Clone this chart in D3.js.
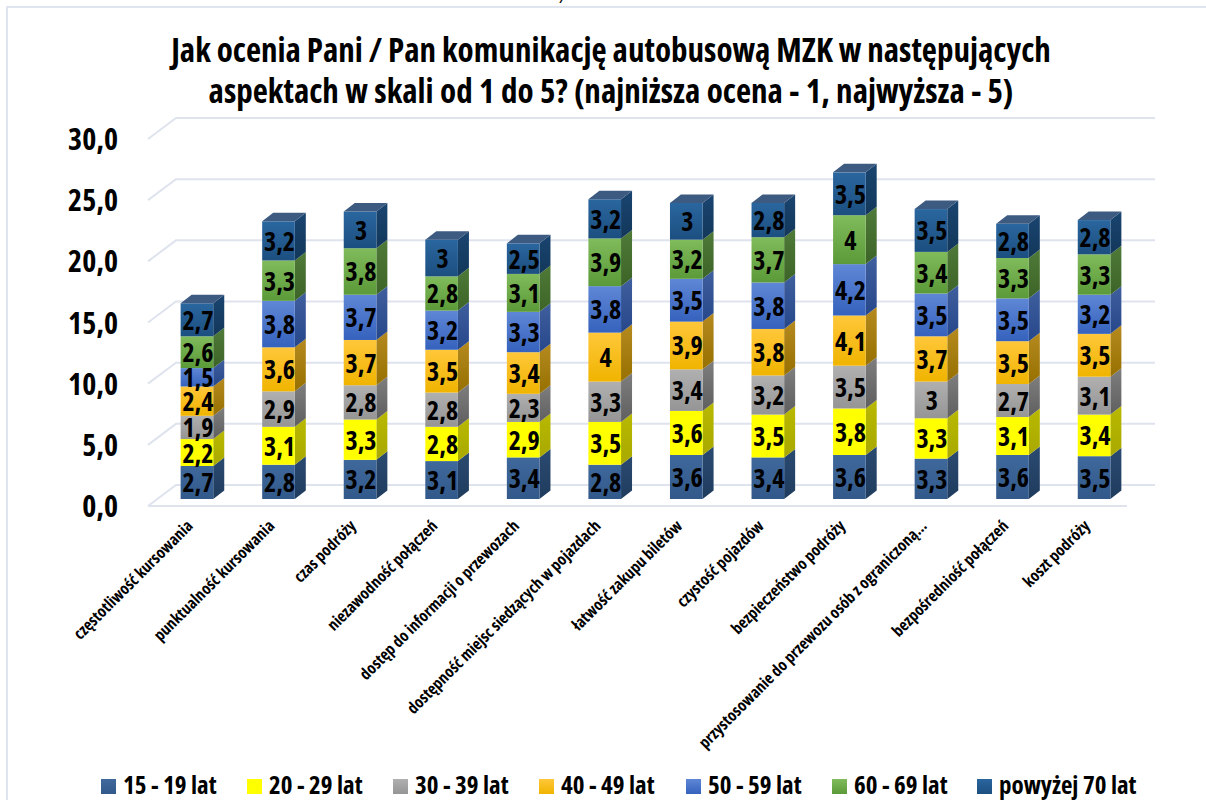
<!DOCTYPE html>
<html>
<head>
<meta charset="utf-8">
<style>
  html, body { margin: 0; padding: 0; background: #fff; }
  svg { display: block; }
  text { font-family: "Open Sans", sans-serif; font-weight: 700; font-stretch: 75%; fill: #000; }
</style>
</head>
<body>
<div id="chart"></div>
<script src="https://cdn.jsdelivr.net/npm/d3@7"></script>
<script>
var categories = ["częstotliwość kursowania", "punktualność kursowania", "czas podróży", "niezawodność połączeń",
  "dostęp do informacji o przewozach", "dostępność miejsc siedzących w pojazdach", "łatwość zakupu biletów",
  "czystość pojazdów", "bezpieczeństwo podróży", "przystosowanie do przewozu osób z ograniczoną…",
  "bezpośredniość połączeń", "koszt podróży"];
var seriesNames = ["15 - 19 lat", "20 - 29 lat", "30 - 39 lat", "40 - 49 lat", "50 - 59 lat", "60 - 69 lat", "powyżej 70 lat"];
var s15 = [2.7, 2.8, 3.2, 3.1, 3.4, 2.8, 3.6, 3.4, 3.6, 3.3, 3.6, 3.5];
var s20 = [2.2, 3.1, 3.3, 2.8, 2.9, 3.5, 3.6, 3.5, 3.8, 3.3, 3.1, 3.4];
var s30 = [1.9, 2.9, 2.8, 2.8, 2.3, 3.3, 3.4, 3.2, 3.5, 3, 2.7, 3.1];
var s40 = [2.4, 3.6, 3.7, 3.5, 3.4, 4, 3.9, 3.8, 4.1, 3.7, 3.5, 3.5];
var s50 = [1.5, 3.8, 3.7, 3.2, 3.3, 3.8, 3.5, 3.8, 4.2, 3.5, 3.5, 3.2];
var s60 = [2.6, 3.3, 3.8, 2.8, 3.1, 3.9, 3.2, 3.7, 4, 3.4, 3.3, 3.3];
var s70 = [2.7, 3.2, 3, 3, 2.5, 3.2, 3, 2.8, 3.5, 3.5, 2.8, 2.8];
var yTicks = [0, 5, 10, 15, 20, 25, 30];
var titleLines = ["Jak ocenia Pani / Pan komunikację autobusową MZK w następujących",
  "aspektach w skali od 1 do 5? (najniższa ocena - 1, najwyższa - 5)"];
// top colour, bottom colour of each series
var colorTop = ["#3f689c", "#ffff00", "#b0b0b0", "#ffc73a", "#5f87d6", "#80bb5c", "#2a669f"];
var colorBottom = ["#32598a", "#ffff00", "#959595", "#f0b400", "#3562bd", "#5b9a38", "#1c4f80"];
var sideTop = ["#2b4a70", "#b9b900", "#7e7e7e", "#b58a20", "#3f5f9e", "#4f7a38", "#1a4570"];
var sideBottom = ["#1f3c5e", "#a8a800", "#5f5f5f", "#967000", "#26478a", "#3c6427", "#12375a"];
var capColor = "#3d5a80";
var series = [s15, s20, s30, s40, s50, s60, s70];

var width = 1206, height = 800;
var depthX = 11, depthY = 8.5;        // bar depth
var wallX = 28, wallY = 21;           // floor depth

var svg = d3.select("#chart").append("svg").attr("width", width).attr("height", height);
var defs = svg.append("defs");

var x = d3.scaleBand().domain(d3.range(categories.length)).range([148, 1143]).paddingInner(0.6).paddingOuter(0.4);
var y = d3.scaleLinear().domain([0, 30]).range([499, 132]);
var wall = d3.scaleLinear().domain([0, 30]).range([485, 118]);

function gradient(id, top, bottom) {
  var g = defs.append("linearGradient").attr("id", id).attr("x1", 0).attr("y1", 0).attr("x2", 0).attr("y2", 1);
  g.append("stop").attr("offset", "0%").attr("stop-color", top);
  g.append("stop").attr("offset", "100%").attr("stop-color", bottom);
}
seriesNames.forEach(function(d, i) {
  gradient("front" + i, colorTop[i], colorBottom[i]);
  gradient("side" + i, sideTop[i], sideBottom[i]);
});

// chart border, cut by the crop on the right and the bottom
svg.append("path").attr("d", "M7,800V7H1206").attr("fill", "none").attr("stroke", "#dfe4ef").attr("stroke-width", 2);
svg.append("text").attr("x", 560).attr("y", 3).attr("font-size", 13).attr("font-style", "italic").text("/");

svg.append("g").selectAll("text").data(titleLines).enter().append("text")
  .attr("x", 611).attr("y", function(d, i) { return 62 + i * 41; })
  .attr("text-anchor", "middle").attr("font-size", 33)
  .attr("word-spacing", function(d, i) { return i ? 0.5 : 0; })
  .text(function(d) { return d; });

// walls
var grid = svg.append("g").attr("fill", "none").attr("stroke", "#dfe3ee").attr("stroke-width", 2);
grid.selectAll("path").data(yTicks).enter().append("path")
  .attr("d", function(d) {
    var v = wall(d);
    return "M148," + (v + wallY) + "L176," + v + "H1155";
  });
grid.append("line").attr("x1", 148).attr("x2", 1127).attr("y1", wall(0) + wallY).attr("y2", wall(0) + wallY);

svg.append("g").selectAll("text").data(yTicks).enter().append("text")
  .attr("x", 118).attr("y", function(d) { return wall(d) + wallY + 11; })
  .attr("text-anchor", "end").attr("font-size", 30)
  .text(function(d) { return d3.format(".1f")(d).replace(".", ","); });

// bars
var bars = svg.append("g");
categories.forEach(function(c, k) {
  var x0 = x(k), x1 = x0 + x.bandwidth(), sum = 0;
  series.forEach(function(s, i) {
    var yb = y(sum), yt = y(sum + s[k]);
    sum += s[k];
    bars.append("polygon")
      .attr("points", [[x1, yb], [x1 + depthX, yb - depthY], [x1 + depthX, yt - depthY], [x1, yt]].join(" "))
      .attr("fill", "url(#side" + i + ")");
    bars.append("rect").attr("x", x0).attr("y", yt).attr("width", x.bandwidth()).attr("height", yb - yt)
      .attr("fill", "url(#front" + i + ")");
    if (i == series.length - 1) {
      bars.append("polygon")
        .attr("points", [[x0, yt], [x0 + depthX, yt - depthY], [x1 + depthX, yt - depthY], [x1, yt]].join(" "))
        .attr("fill", capColor);
    }
  });
});
// value labels go on top of every bar part
categories.forEach(function(c, k) {
  var sum = 0;
  series.forEach(function(s) {
    var yb = y(sum), yt = y(sum + s[k]);
    sum += s[k];
    bars.append("text").attr("x", x(k) + x.bandwidth() / 2 + 1).attr("y", (yb + yt) / 2 + 10)
      .attr("text-anchor", "middle").attr("font-size", 26).attr("font-weight", 800)
      .text(String(s[k]).replace(".", ","));
  });
});

// category labels
svg.append("g").selectAll("text").data(categories).enter().append("text")
  .attr("text-anchor", "end").attr("font-size", 16.3)
  .attr("transform", function(d, i) {
    return "translate(" + (x(i) + x.bandwidth() / 2 - 3) + ",527) rotate(-45)";
  })
  .text(function(d) { return d; });

// legend
var legendX = [101, 247, 393, 539, 686, 832, 977];
var legend = svg.append("g").selectAll("g").data(seriesNames).enter().append("g")
  .attr("transform", function(d, i) { return "translate(" + legendX[i] + ",779)"; });
legend.append("rect").attr("width", 15).attr("height", 15)
  .attr("fill", function(d, i) { return "url(#front" + i + ")"; });
legend.append("text").attr("x", 22).attr("y", 15).attr("font-size", 25).text(function(d) { return d; });
</script>
</body>
</html>
